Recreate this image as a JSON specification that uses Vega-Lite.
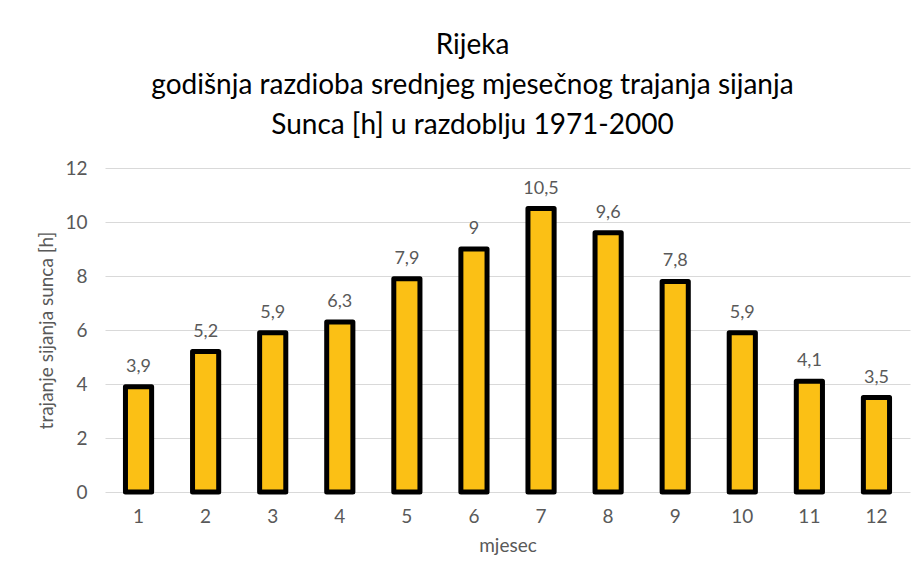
{
  "$schema": "https://vega.github.io/schema/vega-lite/v6.json",
  "width": 805,
  "height": 324,
  "autosize": {"type": "none"},
  "padding": {"left": 105, "top": 168, "right": 12, "bottom": 89},
  "background": "white",
  "config": {
    "locale": {"number": {"decimal": ",", "thousands": ".", "grouping": [3], "currency": ["", " €"]}},
    "font": "Lato",
    "view": {"stroke": null}
  },
  "title": {
    "text": ["Rijeka", "godišnja razdioba srednjeg mjesečnog trajanja sijanja", "Sunca [h] u razdoblju 1971-2000"],
    "font": "Lato",
    "fontSize": 28,
    "fontWeight": "normal",
    "color": "#000000",
    "lineHeight": 40,
    "anchor": "middle",
    "dx": -35,
    "offset": 19
  },
  "data": {
    "values": [
      {"mjesec": 1, "sati": 3.9},
      {"mjesec": 2, "sati": 5.2},
      {"mjesec": 3, "sati": 5.9},
      {"mjesec": 4, "sati": 6.3},
      {"mjesec": 5, "sati": 7.9},
      {"mjesec": 6, "sati": 9.0},
      {"mjesec": 7, "sati": 10.5},
      {"mjesec": 8, "sati": 9.6},
      {"mjesec": 9, "sati": 7.8},
      {"mjesec": 10, "sati": 5.9},
      {"mjesec": 11, "sati": 4.1},
      {"mjesec": 12, "sati": 3.5}
    ]
  },
  "encoding": {
    "x": {
      "field": "mjesec",
      "type": "ordinal",
      "title": "mjesec",
      "scale": {"paddingInner": 0.61, "paddingOuter": 0.305},
      "axis": {
        "labelAngle": 0,
        "domain": false,
        "ticks": false,
        "labelFont": "Lato",
        "labelFontSize": 19,
        "labelColor": "#595959",
        "labelPadding": 15,
        "titleFont": "Lato",
        "titleFontSize": 19,
        "titleFontWeight": "normal",
        "titleColor": "#595959",
        "titlePadding": 10
      }
    },
    "y": {
      "field": "sati",
      "type": "quantitative",
      "title": "trajanje sijanja sunca [h]",
      "scale": {"domain": [0, 12]},
      "axis": {
        "values": [0, 2, 4, 6, 8, 10, 12],
        "domain": false,
        "ticks": false,
        "gridColor": "#D9D9D9",
        "gridWidth": 1,
        "labelFont": "Lato",
        "labelFontSize": 19,
        "labelColor": "#595959",
        "labelPadding": 18,
        "titleFont": "Lato",
        "titleFontSize": 19,
        "titleFontWeight": "normal",
        "titleColor": "#595959",
        "titlePadding": 8
      }
    }
  },
  "layer": [
    {
      "mark": {"type": "bar", "fill": "#FBC015", "stroke": "#000000", "strokeWidth": 5, "strokeJoin": "round"}
    },
    {
      "mark": {"type": "text", "baseline": "bottom", "dy": -11, "fontSize": 18, "color": "#595959", "font": "Lato"},
      "encoding": {
        "text": {"field": "sati", "type": "quantitative", "format": "~g"}
      }
    }
  ]
}
